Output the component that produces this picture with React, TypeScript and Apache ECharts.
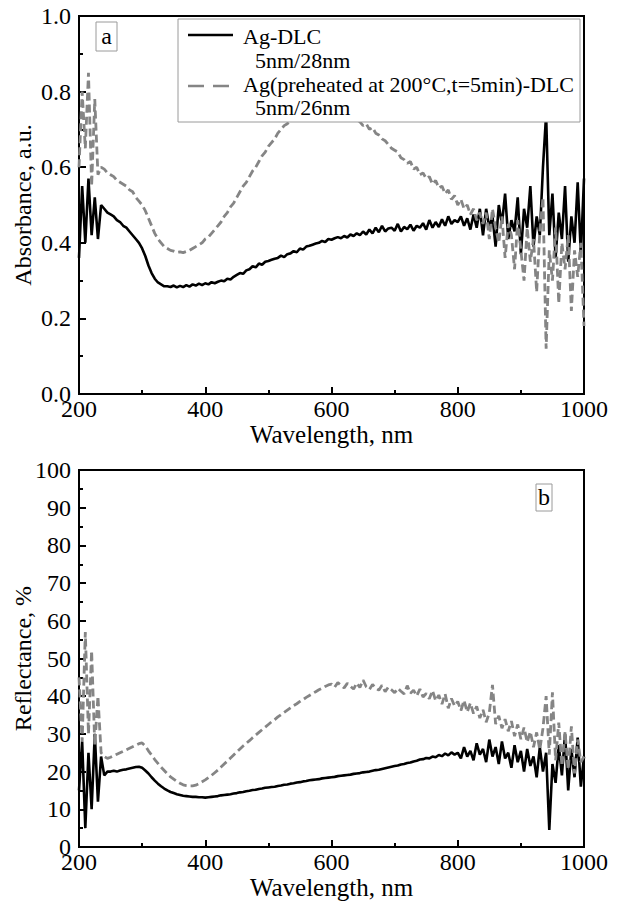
import React, { useEffect, useRef } from "react";
import * as echarts from "echarts";

// Wavelength grid, nm (200..1000, step 5)
const wavelengths: number[] = Array.from({ length: 161 }, (_, i) => 200 + i * 5);

// Panel a: absorbance, a.u.
const absAgDLC: number[] = [
  0.36, 0.55, 0.40, 0.57, 0.42, 0.52, 0.41, 0.50, 0.49, 0.48,
  0.475, 0.47, 0.46, 0.455, 0.445, 0.44, 0.43, 0.42, 0.41, 0.40,
  0.385, 0.365, 0.34, 0.32, 0.305, 0.295, 0.29, 0.285, 0.285, 0.283,
  0.287, 0.282, 0.286, 0.283, 0.288, 0.284, 0.29, 0.287, 0.292, 0.288,
  0.293, 0.29, 0.296, 0.293, 0.297, 0.30, 0.298, 0.305, 0.303, 0.31,
  0.315, 0.32, 0.318, 0.327, 0.33, 0.338, 0.335, 0.345, 0.342, 0.35,
  0.352, 0.355, 0.358, 0.36, 0.366, 0.362, 0.37, 0.372, 0.378, 0.375,
  0.385, 0.382, 0.39, 0.392, 0.395, 0.398, 0.40, 0.405, 0.402, 0.41,
  0.408, 0.412, 0.415, 0.412, 0.418, 0.414, 0.422, 0.418, 0.425, 0.42,
  0.43, 0.422, 0.435, 0.425, 0.44, 0.428, 0.445, 0.43, 0.438, 0.44,
  0.432, 0.45, 0.43, 0.442, 0.436, 0.448, 0.432, 0.445, 0.44, 0.452,
  0.435, 0.46, 0.44, 0.455, 0.442, 0.462, 0.445, 0.47, 0.45, 0.46,
  0.455, 0.47, 0.445, 0.465, 0.435, 0.475, 0.44, 0.49, 0.42, 0.49,
  0.44, 0.47, 0.39, 0.50, 0.45, 0.53, 0.41, 0.46, 0.43, 0.52,
  0.37, 0.49, 0.44, 0.55, 0.39, 0.47, 0.42, 0.60, 0.74, 0.42,
  0.53, 0.36, 0.48, 0.41, 0.55, 0.35, 0.47, 0.40, 0.56, 0.37,
  0.57,
];
const absPreheated: number[] = [
  0.60, 0.80, 0.65, 0.85, 0.55, 0.78, 0.58, 0.60, 0.595, 0.585,
  0.58, 0.575, 0.565, 0.56, 0.555, 0.55, 0.54, 0.535, 0.52, 0.51,
  0.50, 0.485, 0.465, 0.445, 0.425, 0.41, 0.40, 0.39, 0.385, 0.38,
  0.378, 0.375, 0.376, 0.374, 0.377, 0.38, 0.385, 0.39, 0.395, 0.40,
  0.41, 0.415, 0.425, 0.435, 0.445, 0.455, 0.47, 0.48, 0.495, 0.505,
  0.52, 0.535, 0.55, 0.56, 0.575, 0.59, 0.60, 0.615, 0.63, 0.64,
  0.655, 0.665, 0.675, 0.69, 0.70, 0.71, 0.715, 0.725, 0.735, 0.74,
  0.75, 0.755, 0.76, 0.765, 0.77, 0.775, 0.775, 0.78, 0.78, 0.78,
  0.782, 0.78, 0.778, 0.775, 0.77, 0.765, 0.755, 0.745, 0.725, 0.72,
  0.71, 0.715, 0.70, 0.705, 0.69, 0.685, 0.675, 0.67, 0.66, 0.65,
  0.645, 0.64, 0.625, 0.62, 0.61, 0.615, 0.595, 0.60, 0.58, 0.585,
  0.57, 0.575, 0.555, 0.565, 0.545, 0.55, 0.53, 0.54, 0.515, 0.525,
  0.50, 0.515, 0.49, 0.50, 0.475, 0.49, 0.46, 0.48, 0.45, 0.48,
  0.41, 0.49, 0.44, 0.40, 0.47, 0.36, 0.45, 0.42, 0.33, 0.46,
  0.38, 0.30, 0.44, 0.35, 0.41, 0.27, 0.43, 0.52, 0.12, 0.38,
  0.30, 0.44, 0.24, 0.40, 0.33, 0.42, 0.22, 0.38, 0.31, 0.40,
  0.18,
];

// Panel b: reflectance, %
const refAgDLC: number[] = [
  15, 28, 5, 25, 10, 30, 12, 24, 19, 20,
  20, 20.2, 20, 20.3, 20.5, 20.6, 20.8, 21, 21.2, 21.3,
  21, 20.3, 19.5, 18.5, 17.6, 16.8, 16.1, 15.5, 15, 14.6,
  14.3, 14, 13.8, 13.6, 13.5, 13.4, 13.3, 13.3, 13.2, 13.2,
  13.1, 13.2, 13.3, 13.4, 13.5, 13.7, 13.8, 13.9, 14, 14.2,
  14.3, 14.5, 14.6, 14.8, 14.9, 15.1, 15.2, 15.4, 15.5, 15.7,
  15.8, 15.9, 16, 16.2, 16.3, 16.5, 16.6, 16.8, 16.9, 17.1,
  17.2, 17.4, 17.5, 17.7, 17.8, 17.9, 18, 18.2, 18.3, 18.4,
  18.5, 18.6, 18.8, 18.9, 19, 19.1, 19.2, 19.4, 19.5, 19.6,
  19.8, 19.9, 20, 20.2, 20.4, 20.5, 20.7, 20.9, 21.1, 21.3,
  21.5, 21.6, 21.9, 22, 22.3, 22.4, 22.7, 22.9, 23.2, 23.3,
  23.6, 23.5, 24, 23.8, 24.4, 24.1, 24.8, 24.3, 25.1, 24.5,
  25, 23.5, 26.5, 24, 25.5, 23, 27.5, 24.5, 26, 22.5,
  28.5, 24, 26.5, 22, 28, 23.5, 25, 21, 27, 22.5,
  25.5, 20, 26, 21.5, 24, 18.5, 26.5, 20, 25, 4.5,
  22, 17, 27, 19, 30, 15, 26, 18.5, 29, 16,
  24,
];
const refPreheated: number[] = [
  45, 28, 57, 30, 52, 27, 40, 25, 24, 23.5,
  23.8, 24.2, 24.6, 25, 25.4, 25.8, 26.2, 26.6, 27, 27.4,
  27.6, 26.8, 25.5, 24.4, 23.2, 22.2, 21.2, 20.3, 19.4, 18.6,
  18, 17.4, 16.9, 16.5, 16.3, 16.2, 16.2, 16.4, 16.8, 17.3,
  17.8, 18.4, 19, 19.7, 20.4, 21.2, 22, 22.8, 23.6, 24.4,
  25.2, 26, 26.8, 27.5, 28.2, 29, 29.7, 30.4, 31.1, 31.8,
  32.5, 33.2, 33.8, 34.5, 35.1, 35.7, 36.3, 36.9, 37.5, 38,
  38.6, 39.1, 39.7, 40.2, 40.7, 41.2, 41.7, 42.1, 42.6, 43,
  43.2, 42.4, 43.6, 42.9, 42.2, 43.4, 42.6, 41.9, 43.5, 42.3,
  44.3, 42.5, 41.8, 43.1, 42.2, 41.6, 42.9, 41.2, 42.4, 41.7,
  40.9, 42.1, 41.3, 40.6, 42.8, 40.8, 41.6, 40.1, 41.9, 39.8,
  40.7, 39.3, 41.5, 38.8, 40.3, 37.9, 40.6, 36.8, 39.4, 37.4,
  38.6, 36.2, 38.9, 35.8, 38.2, 35.4, 37.3, 34.2, 36.4, 33.1,
  35.6, 43, 32.6, 34.8, 31.5, 33.9, 30.7, 33.4, 29.4, 32.5,
  28.6, 31.7, 27.8, 30.6, 26.5, 30.4, 25.8, 31.5, 40, 24.5,
  41, 23, 33, 21.5, 30.5, 20.5, 32, 19.5, 28.5, 22.5,
  24,
];

const absTicks: number[] = [0, 0.2, 0.4, 0.6, 0.8, 1.0];
const refTicks: number[] = [0, 10, 20, 30, 40, 50, 60, 70, 80, 90, 100];
const xTicks: number[] = [200, 400, 600, 800, 1000];

const seriesNames = ["Ag-DLC", "Ag(preheated at 200°C,t=5min)-DLC"];
const seriesSub = ["5nm/28nm", "5nm/26nm"];

const FONT = "Liberation Serif";
const BLACK = "#000000";
const GRAY = "#858585";

export default function App() {
  const ref = useRef<HTMLDivElement>(null);

  useEffect(() => {
    document.body.style.margin = "0";
    if (!ref.current) return;
    const chart = echarts.init(ref.current, undefined, { renderer: "svg" });

    const pair = (ys: number[]) => wavelengths.map((w, i) => [w, ys[i]]);

    const tickCommon = {
      axisLine: { show: true, lineStyle: { color: BLACK, width: 2 } },
      axisTick: { show: true, inside: true, length: 7, lineStyle: { color: BLACK, width: 2 } },
      minorTick: { show: true, splitNumber: 2, length: 4, lineStyle: { color: BLACK, width: 2 } },
      splitLine: { show: false },
    };

    const xAxisBase = (gridIndex: number) => ({
      type: "value" as const,
      gridIndex,
      min: xTicks[0],
      max: xTicks[xTicks.length - 1],
      interval: 200,
      name: "Wavelength, nm",
      nameLocation: "middle" as const,
      nameGap: 28,
      nameMoveOverlap: false,
      nameTextStyle: { fontFamily: FONT, fontSize: 25, color: BLACK },
      ...tickCommon,
      axisLabel: { fontFamily: FONT, fontSize: 24, color: BLACK, margin: 3, formatter: (v: number) => String(v) },
    });

    const option: any = {
      animation: false,
      backgroundColor: "#ffffff",
      grid: [
        { left: 79, top: 16, width: 505, height: 378, show: true, borderColor: BLACK, borderWidth: 2, backgroundColor: "transparent", containLabel: false, outerBoundsMode: "none" },
        { left: 79, top: 470, width: 505, height: 377, show: true, borderColor: BLACK, borderWidth: 2, backgroundColor: "transparent", containLabel: false, outerBoundsMode: "none" },
      ],
      xAxis: [xAxisBase(0), xAxisBase(1)],
      yAxis: [
        {
          type: "value",
          gridIndex: 0,
          min: absTicks[0],
          max: absTicks[absTicks.length - 1],
          interval: 0.2,
          name: "Absorbance, a.u.",
          nameLocation: "middle",
          nameGap: 44,
          nameMoveOverlap: false,
          nameTextStyle: { fontFamily: FONT, fontSize: 24, color: BLACK },
          ...tickCommon,
          axisLabel: { fontFamily: FONT, fontSize: 24, color: BLACK, margin: 8, formatter: (v: number) => v.toFixed(1) },
        },
        {
          type: "value",
          gridIndex: 1,
          min: refTicks[0],
          max: refTicks[refTicks.length - 1],
          interval: 10,
          name: "Reflectance, %",
          nameLocation: "middle",
          nameGap: 44,
          nameMoveOverlap: false,
          nameTextStyle: { fontFamily: FONT, fontSize: 24, color: BLACK },
          ...tickCommon,
          axisLabel: { fontFamily: FONT, fontSize: 24, color: BLACK, margin: 8 },
        },
      ],
      series: [
        {
          name: seriesNames[0], type: "line", xAxisIndex: 0, yAxisIndex: 0, data: pair(absAgDLC),
          showSymbol: false, symbol: "none", lineStyle: { color: BLACK, width: 2.6 }, z: 3,
        },
        {
          name: seriesNames[1], type: "line", xAxisIndex: 0, yAxisIndex: 0, data: pair(absPreheated),
          showSymbol: false, symbol: "none", lineStyle: { color: GRAY, width: 2.8, type: [8, 4] }, z: 4,
        },
        {
          name: seriesNames[0] + " ", type: "line", xAxisIndex: 1, yAxisIndex: 1, data: pair(refAgDLC),
          showSymbol: false, symbol: "none", lineStyle: { color: BLACK, width: 2.6 }, z: 3,
        },
        {
          name: seriesNames[1] + " ", type: "line", xAxisIndex: 1, yAxisIndex: 1, data: pair(refPreheated),
          showSymbol: false, symbol: "none", lineStyle: { color: GRAY, width: 2.8, type: [8, 4] }, z: 4,
        },
      ],
      graphic: [
        // legend box
        { type: "rect", z: 100, shape: { x: 178, y: 19, width: 402, height: 103 }, style: { fill: "#ffffff", stroke: "#9a9a9a", lineWidth: 1 } },
        { type: "line", z: 101, shape: { x1: 188, y1: 35, x2: 233, y2: 35 }, style: { stroke: BLACK, lineWidth: 2.5 } },
        { type: "line", z: 101, shape: { x1: 188, y1: 86, x2: 233, y2: 86 }, style: { stroke: GRAY, lineWidth: 2.5, lineDash: [16, 9] } },
        { type: "text", z: 101, x: 243, y: 36, style: { text: seriesNames[0], font: `22px ${FONT}`, fill: BLACK, verticalAlign: "middle", align: "left" } },
        { type: "text", z: 101, x: 255, y: 60, style: { text: seriesSub[0], font: `22px ${FONT}`, fill: BLACK, verticalAlign: "middle", align: "left" } },
        { type: "text", z: 101, x: 243, y: 84, style: { text: seriesNames[1], font: `22px ${FONT}`, fill: BLACK, verticalAlign: "middle", align: "left" } },
        { type: "text", z: 101, x: 255, y: 107, style: { text: seriesSub[1], font: `22px ${FONT}`, fill: BLACK, verticalAlign: "middle", align: "left" } },
        // panel labels
        { type: "rect", z: 100, shape: { x: 96, y: 22, width: 21, height: 29 }, style: { fill: "#ffffff", stroke: "#9a9a9a", lineWidth: 1 } },
        { type: "text", z: 101, x: 106.5, y: 36, style: { text: "a", font: `24px ${FONT}`, fill: BLACK, verticalAlign: "middle", align: "center" } },
        { type: "rect", z: 100, shape: { x: 536, y: 484, width: 16, height: 27 }, style: { fill: "#ffffff", stroke: "#9a9a9a", lineWidth: 1 } },
        { type: "text", z: 101, x: 544, y: 497, style: { text: "b", font: `24px ${FONT}`, fill: BLACK, verticalAlign: "middle", align: "center" } },
      ],
    };

    chart.setOption(option);
    return () => chart.dispose();
  }, []);

  return <div ref={ref} style={{ width: 617, height: 903 }} />;
}
